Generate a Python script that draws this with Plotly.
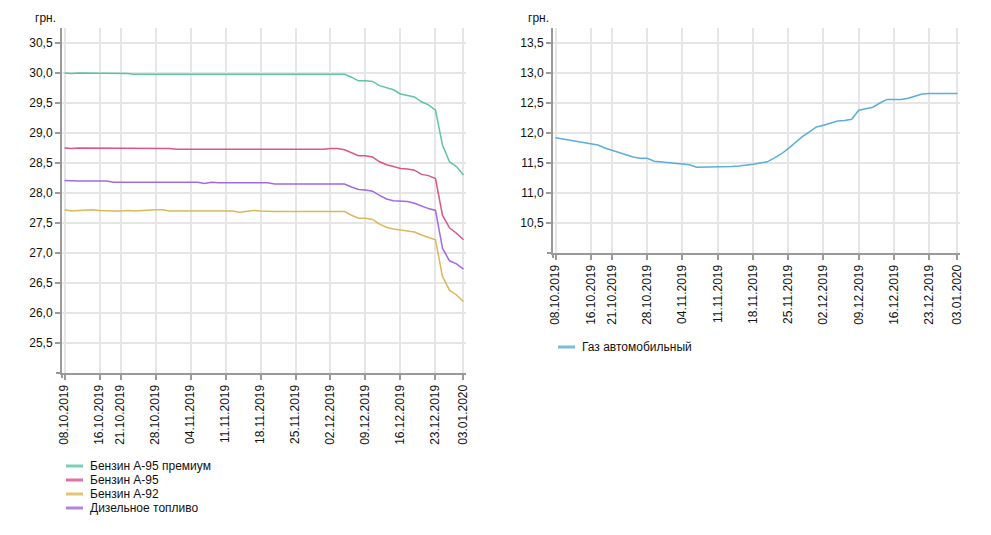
import plotly.graph_objects as go

dates = ["08.10.2019","09.10.2019","10.10.2019","11.10.2019","15.10.2019","16.10.2019","17.10.2019","18.10.2019",
         "21.10.2019","22.10.2019","23.10.2019","24.10.2019","25.10.2019","28.10.2019","29.10.2019","30.10.2019",
         "31.10.2019","01.11.2019","04.11.2019","05.11.2019","06.11.2019","07.11.2019","08.11.2019","11.11.2019",
         "12.11.2019","13.11.2019","14.11.2019","15.11.2019","18.11.2019","19.11.2019","20.11.2019","21.11.2019",
         "22.11.2019","25.11.2019","26.11.2019","27.11.2019","28.11.2019","29.11.2019","02.12.2019","03.12.2019",
         "04.12.2019","05.12.2019","06.12.2019","09.12.2019","10.12.2019","11.12.2019","12.12.2019","13.12.2019",
         "16.12.2019","17.12.2019","18.12.2019","19.12.2019","20.12.2019","23.12.2019","24.12.2019","27.12.2019",
         "30.12.2019","03.01.2020"]

tick_dates = ["08.10.2019","16.10.2019","21.10.2019","28.10.2019","04.11.2019","11.11.2019","18.11.2019",
              "25.11.2019","02.12.2019","09.12.2019","16.12.2019","23.12.2019","03.01.2020"]

a95_premium = [30.00,29.99,30.00,30.00,30.00,29.99,30.00,30.00,30.00,29.99,
               29.98,29.98,29.98,29.98,29.98,29.98,29.98,29.98,29.98,29.98,
               29.98,29.98,29.98,29.98,29.98,29.98,29.98,29.98,29.98,29.98,
               29.98,29.98,29.98,29.98,29.98,29.98,29.98,29.98,29.98,29.98,
               29.98,29.93,29.87,29.87,29.86,29.79,29.75,29.72,29.65,29.62,
               29.60,29.52,29.47,29.38,28.80,28.52,28.44,28.30]

a95 = [28.75,28.74,28.75,28.75,28.75,28.74,28.75,28.75,28.74,28.75,
       28.74,28.75,28.75,28.75,28.75,28.74,28.73,28.73,28.73,28.73,
       28.73,28.73,28.73,28.73,28.73,28.73,28.73,28.73,28.73,28.73,
       28.72,28.73,28.73,28.73,28.73,28.73,28.72,28.73,28.74,28.74,
       28.72,28.67,28.62,28.62,28.60,28.52,28.47,28.44,28.41,28.40,
       28.38,28.31,28.29,28.24,27.63,27.42,27.33,27.22]

a92 = [27.72,27.70,27.71,27.72,27.72,27.71,27.70,27.70,27.70,27.71,
       27.70,27.71,27.72,27.72,27.72,27.70,27.70,27.70,27.70,27.70,
       27.70,27.70,27.70,27.70,27.70,27.68,27.70,27.71,27.70,27.69,
       27.69,27.69,27.69,27.69,27.69,27.69,27.69,27.69,27.69,27.69,
       27.69,27.63,27.58,27.58,27.56,27.48,27.43,27.40,27.38,27.37,
       27.35,27.30,27.26,27.22,26.61,26.38,26.30,26.19]

diesel = [28.21,28.20,28.20,28.20,28.20,28.20,28.20,28.18,28.18,28.18,
          28.18,28.18,28.18,28.18,28.18,28.18,28.18,28.18,28.18,28.18,
          28.16,28.18,28.17,28.17,28.17,28.17,28.17,28.17,28.17,28.17,
          28.15,28.15,28.15,28.15,28.15,28.15,28.15,28.15,28.15,28.15,
          28.15,28.10,28.06,28.05,28.03,27.96,27.90,27.87,27.86,27.86,
          27.83,27.78,27.74,27.71,27.08,26.87,26.82,26.73]

gas = [11.92,11.90,11.88,11.87,11.85,11.83,11.80,11.75,11.71,11.68,
       11.63,11.60,11.58,11.58,11.53,11.52,11.50,11.50,11.48,11.47,
       11.43,11.43,11.43,11.43,11.43,11.44,11.45,11.46,11.48,11.50,
       11.52,11.58,11.65,11.74,11.84,11.94,12.02,12.10,12.13,12.16,
       12.20,12.21,12.23,12.38,12.40,12.43,12.50,12.56,12.56,12.56,
       12.58,12.62,12.65,12.66,12.66,12.66,12.66,12.66]

left_series = [
    ("Бензин А-95 премиум", a95_premium, "#4fbf9f"),
    ("Бензин А-95", a95, "#d8447f"),
    ("Бензин А-92", a92, "#d9b14a"),
    ("Дизельное топливо", diesel, "#9a5ade"),
]
right_series = [("Газ автомобильный", gas, "#4ba6d8")]

left_yticks = [25.5, 26.0, 26.5, 27.0, 27.5, 28.0, 28.5, 29.0, 29.5, 30.0, 30.5]
right_yticks = [10.5, 11.0, 11.5, 12.0, 12.5, 13.0, 13.5]

W, H = 991, 535
FONT = "Liberation Sans, Arial"
fig = go.Figure()


def px_x(p):
    return p / W


def px_y(p):
    return 1 - p / H


for name, vals, col in left_series:
    fig.add_trace(go.Scatter(x=dates, y=vals, name=name, mode="lines",
                             line=dict(color=col, width=1.5), opacity=0.9,
                             xaxis="x", yaxis="y", showlegend=False))
for name, vals, col in right_series:
    fig.add_trace(go.Scatter(x=dates, y=vals, name=name, mode="lines",
                             line=dict(color=col, width=1.5), opacity=0.9,
                             xaxis="x2", yaxis="y2", showlegend=False))

shapes = []
annotations = []

# compact legends, as in the original
legend_specs = [(left_series, 66, 466), (right_series, 558, 347)]
for series, lx, ly in legend_specs:
    for k, (name, vals, col) in enumerate(series):
        yc = ly + 14 * k
        shapes.append(dict(type="line", xref="paper", yref="paper",
                           x0=px_x(lx), x1=px_x(lx + 17), y0=px_y(yc), y1=px_y(yc),
                           line=dict(color=col, width=3), opacity=0.75))
        annotations.append(dict(text=name, x=px_x(lx + 22), y=px_y(yc), xref="paper", yref="paper",
                                xanchor="left", yanchor="middle", showarrow=False,
                                font=dict(family=FONT, size=12, color="#111")))

# small axis-corner extensions (axes cross slightly, as in the original)
for ax_x, ax_y in [(62, 373), (553, 253)]:
    shapes.append(dict(type="line", xref="paper", yref="paper",
                       x0=px_x(ax_x - 6), x1=px_x(ax_x), y0=px_y(ax_y), y1=px_y(ax_y),
                       line=dict(color="#9a9a9a", width=2)))
    shapes.append(dict(type="line", xref="paper", yref="paper",
                       x0=px_x(ax_x), x1=px_x(ax_x), y0=px_y(ax_y), y1=px_y(ax_y + 5),
                       line=dict(color="#9a9a9a", width=2)))

annotations += [
    dict(text="грн.", x=px_x(58), y=px_y(18), xref="paper", yref="paper",
         xanchor="right", yanchor="middle", showarrow=False, font=dict(family=FONT, size=12, color="#111")),
    dict(text="грн.", x=px_x(551), y=px_y(18), xref="paper", yref="paper",
         xanchor="right", yanchor="middle", showarrow=False, font=dict(family=FONT, size=12, color="#111")),
]

axis_common = dict(showline=True, linecolor="#9a9a9a", linewidth=2, automargin=False,
                   ticks="outside", ticklen=5, tickcolor="#9a9a9a", tickwidth=2,
                   showgrid=True, gridcolor="#e6e6e6", gridwidth=2,
                   zeroline=False, tickfont=dict(family=FONT, size=12, color="#111"))

n = len(dates)
xr = [-0.36, n - 1 + 0.36]

fig.update_layout(
    width=W, height=H,
    margin=dict(l=0, r=0, t=0, b=0),
    paper_bgcolor="white", plot_bgcolor="white",
    separators=", ",
    font=dict(family=FONT, size=12, color="#111"),
    xaxis=dict(axis_common, domain=[px_x(62), px_x(466)], anchor="y", type="category",
               range=xr, tickmode="array", tickvals=tick_dates, ticktext=tick_dates, tickangle=-90),
    yaxis=dict(axis_common, domain=[px_y(373), px_y(28)], anchor="x",
               range=[25.0, 30.75], tickmode="array", tickvals=left_yticks, tickformat=".1f"),
    xaxis2=dict(axis_common, domain=[px_x(553), px_x(960)], anchor="y2", type="category",
                range=xr, tickmode="array", tickvals=tick_dates, ticktext=tick_dates, tickangle=-90),
    yaxis2=dict(axis_common, domain=[px_y(253), px_y(28)], anchor="x2",
                range=[10.0, 13.75], tickmode="array", tickvals=right_yticks, tickformat=".1f"),
    showlegend=False,
    shapes=shapes,
    annotations=annotations,
)

fig.write_html("out.html")
